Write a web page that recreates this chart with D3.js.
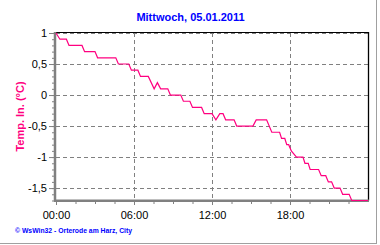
<!DOCTYPE html>
<html>
<head>
<meta charset="utf-8">
<script src="https://cdn.jsdelivr.net/npm/d3@7"></script>
<style>
  html, body { margin: 0; padding: 0; background: #ffffff; }
  svg { display: block; }
</style>
</head>
<body>
<script>
// ---- data (hours of day, temperature °C) ----
const hours = [0, 0.3, 0.8, 1.0, 2.0, 2.2, 3.0, 3.2, 4.6, 4.8, 5.6, 5.8, 6.3, 6.5, 7.1, 7.55, 7.8, 8.05,
  8.6, 8.8, 9.6, 9.8, 10.3, 10.5, 11.2, 11.4, 12.0, 12.3, 12.6, 12.85, 13.05, 13.7, 13.9, 15.15, 15.4,
  16.2, 16.6, 17.2, 17.35, 17.6, 17.75, 17.9, 18.1, 18.5, 19.0, 19.15, 19.4, 19.55, 20.2, 20.4, 20.75,
  20.95, 21.2, 21.4, 21.85, 22.05, 22.55, 22.75, 24];
const temps = [1.0, 0.9, 0.9, 0.8, 0.8, 0.7, 0.7, 0.6, 0.6, 0.5, 0.5, 0.4, 0.4, 0.3, 0.3, 0.1, 0.2, 0.1,
  0.1, 0.0, 0.0, -0.1, -0.1, -0.2, -0.2, -0.3, -0.3, -0.4, -0.3, -0.3, -0.4, -0.4, -0.5, -0.5, -0.4,
  -0.4, -0.6, -0.6, -0.7, -0.7, -0.8, -0.8, -0.9, -1.0, -1.0, -1.1, -1.1, -1.2, -1.2, -1.3, -1.3,
  -1.4, -1.4, -1.5, -1.5, -1.6, -1.6, -1.7, -1.7];
const yTicks = [1, 0.5, 0, -0.5, -1, -1.5];
const xTicks = [0, 6, 12, 18];
const xTickLabels = ["00:00", "06:00", "12:00", "18:00"];
const title = "Mittwoch, 05.01.2011";
const yLabel = "Temp. In. (°C)";
const footer = "© WsWin32  -  Orterode am Harz, City";

// ---- layout ----
const W = 380, H = 245;
const L = 56, R = 368, T = 33, B = 200.5;
const pink = "#ff0080", grey = "#808080";

const svg = d3.select("body").append("svg").attr("width", W).attr("height", H);

const x = d3.scaleLinear().domain([0, 24]).range([L, R]);
const y = d3.scaleLinear().domain([-1.7, 1]).range([B, T]);
const fmt = v => String(v).replace(".", ",");

// outer frame (right & bottom)
svg.append("line").attr("x1", 376.5).attr("x2", 376.5).attr("y1", 0).attr("y2", 244)
  .attr("stroke", "#a0a0a0").attr("stroke-width", 1);
svg.append("line").attr("x1", 0).attr("x2", 377).attr("y1", 243.5).attr("y2", 243.5)
  .attr("stroke", "#a0a0a0").attr("stroke-width", 1);

// grid
svg.append("g").selectAll("line").data(yTicks).join("line")
  .attr("x1", L).attr("x2", R)
  .attr("y1", d => Math.round(y(d)) + 0.5).attr("y2", d => Math.round(y(d)) + 0.5)
  .attr("stroke", grey).attr("stroke-dasharray", "4,3");
svg.append("g").selectAll("line").data(xTicks.slice(1)).join("line")
  .attr("x1", d => Math.round(x(d)) + 0.5).attr("x2", d => Math.round(x(d)) + 0.5)
  .attr("y1", T).attr("y2", B)
  .attr("stroke", grey).attr("stroke-dasharray", "4,3");

// plot border top & right
svg.append("line").attr("x1", L).attr("x2", R + 1).attr("y1", T - 0.5).attr("y2", T - 0.5)
  .attr("stroke", "#000").attr("stroke-width", 1.2);
svg.append("line").attr("x1", R + 0.5).attr("x2", R + 0.5).attr("y1", T - 1).attr("y2", B)
  .attr("stroke", "#000").attr("stroke-width", 1.3);

// y axis (major + minor ticks)
const yMinor = svg.append("g").attr("transform", `translate(54,0)`)
  .call(d3.axisLeft(y).tickValues(d3.range(-17, 11).map(d => d / 10)).tickSize(2).tickFormat(""));
const yAx = svg.append("g").attr("transform", `translate(54,0)`)
  .call(d3.axisLeft(y).tickValues(yTicks).tickFormat(fmt).tickSize(5).tickPadding(2));
[yMinor, yAx].forEach(g => {
  g.select(".domain").remove();
  g.selectAll(".tick line").attr("stroke", grey);
});
yAx.selectAll("text").attr("font-family", "Liberation Sans, Arial, sans-serif")
  .attr("font-size", 11).attr("fill", "#000");

// x axis (major + minor ticks)
const xMinor = svg.append("g").attr("transform", `translate(0,201)`)
  .call(d3.axisBottom(x).tickValues(d3.range(0, 24, 1.5)).tickSize(3).tickFormat(""));
const xAx = svg.append("g").attr("transform", `translate(0,201)`)
  .call(d3.axisBottom(x).tickValues(xTicks).tickFormat((d, i) => xTickLabels[i]).tickSize(4).tickPadding(6));
[xMinor, xAx].forEach(g => {
  g.select(".domain").remove();
  g.selectAll(".tick line").attr("stroke", grey);
});
xAx.selectAll("text").attr("font-family", "Liberation Sans, Arial, sans-serif")
  .attr("font-size", 11).attr("fill", "#000");

// thick axis lines
svg.append("line").attr("x1", 55).attr("x2", 55).attr("y1", T - 1).attr("y2", 201.5)
  .attr("stroke", grey).attr("stroke-width", 2.5);
svg.append("line").attr("x1", 54).attr("x2", R + 1).attr("y1", 200.8).attr("y2", 200.8)
  .attr("stroke", grey).attr("stroke-width", 2.5);

// data line
const pts = hours.map((h, i) => [h, temps[i]]);
svg.append("path").datum(pts)
  .attr("d", d3.line().x(d => x(d[0])).y(d => y(d[1])))
  .attr("fill", "none").attr("stroke", pink).attr("stroke-width", 1.2);

// title
svg.append("text").attr("x", 190.5).attr("y", 21).attr("text-anchor", "middle")
  .attr("font-family", "Liberation Sans, Arial, sans-serif").attr("font-weight", "bold")
  .attr("font-size", 11).attr("fill", "#0000ff").text(title);

// y label
svg.append("text").attr("transform", "translate(23.5,116.5) rotate(-90)")
  .attr("text-anchor", "middle")
  .attr("font-family", "Liberation Sans, Arial, sans-serif").attr("font-weight", "bold")
  .attr("font-size", 11).attr("fill", pink).text(yLabel);

// footer
svg.append("text").attr("x", 15).attr("y", 233)
  .attr("font-family", "Liberation Sans, Arial, sans-serif").attr("font-weight", "bold")
  .attr("font-size", 7).attr("fill", "#0000ff")
  .attr("textLength", 117).attr("lengthAdjust", "spacingAndGlyphs")
  .text(footer);
</script>
</body>
</html>
